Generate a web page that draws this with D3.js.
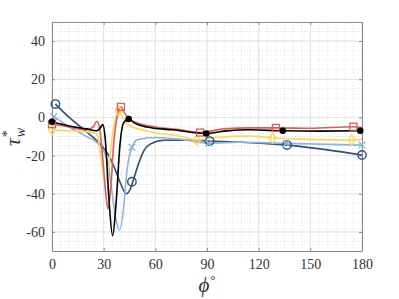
<!DOCTYPE html>
<html>
<head>
<meta charset="utf-8">
<script src="https://cdn.jsdelivr.net/npm/d3@7"></script>
<style>
  body { margin:0; background:#fff; }
</style>
</head>
<body>
<svg id="chart" width="399" height="299"></svg>
<script>
// tick labels
var xTicks = [0, 30, 60, 90, 120, 150, 180];
var yTicks = [-60, -40, -20, 0, 20, 40];

// curves [phi, tau]
var curveDark  = [[2,7],[10,0],[20,-7.5],[28,-14],[33,-20],[37,-28],[40,-35],[43,-40],[45.5,-37.5],[47,-33.5],[50,-25],[53,-18],[57,-14],[65,-12],[80,-12],[91.5,-12.4],[110,-13],[136.5,-14.5],[160,-17],[180,-19.7]];
var curveLight = [[1,0.5],[10,-5],[20,-10],[28,-15],[32,-22],[35,-40],[37,-53],[39.3,-59],[41.5,-48],[43.5,-28],[46.4,-15.7],[50,-11.5],[60,-10.5],[75,-11.5],[91,-13.5],[110,-13],[136,-13.6],[155,-14],[180,-14.5]];
var curveBlack = [[0,-2.3],[10,-4.5],[20,-6],[26,-7],[28,-5.5],[29.5,-3.8],[31,-12],[33,-42],[35.2,-62],[37.2,-45],[39.5,-14],[41.5,-3],[44.5,-0.8],[48,-3],[55,-5],[70,-6.5],[89.6,-8.4],[100,-7.2],[115,-6.5],[134,-7],[155,-7.2],[179,-7]];
var curveRed   = [[0,-3.5],[10,-5],[20,-6.5],[24,-5],[26,-2],[27.5,-5],[29.5,-22],[31,-38],[32.5,-48],[34,-38],[36,-12],[38,1],[40,5.5],[42,2.5],[45,-1],[50,-3],[60,-5],[75,-6.5],[86,-7.9],[100,-6],[115,-5.5],[130,-5.5],[150,-5.7],[175,-4.9],[180,-5.3]];
var curveYellow= [[0,-6.6],[10,-7],[20,-7.5],[25,-8],[27,-12],[29,-25],[31,-34],[33,-25],[35,-10],[37,0],[38.7,3.5],[40,2],[43,-3],[50,-6],[60,-8],[75,-10],[84,-11.9],[95,-10.5],[115,-9.8],[128,-10.8],[150,-11.5],[174,-11.9],[180,-11.5]];

// markers
var markDark   = [[2,7],[46.4,-33.7],[91.5,-12.4],[136.5,-14.5],[180,-19.7]];
var markLight  = [[1,0.5],[46.4,-15.7],[91,-13.5],[136,-13.6],[180,-14.5]];
var markBlack  = [[0,-2.3],[44.5,-0.8],[89.6,-8.4],[134,-7],[179,-7]];
var markRed    = [[0,-3.5],[40,5.5],[86,-7.9],[130,-5.5],[175,-4.9]];
var markYellow = [[0,-6.6],[38.7,3.5],[84,-11.9],[128,-10.8],[174,-11.9]];

var svg = d3.select("#chart");
var plot = { left:52, right:362, top:22, bottom:251 };
var serif = "'Liberation Serif', 'DejaVu Serif', serif";

var x = d3.scaleLinear().domain([0, 180]).range([plot.left, plot.right]);
var y = d3.scaleLinear().domain([-70, 50]).range([plot.bottom, plot.top]);

// minor grid (dotted)
var g = svg.append("g");
g.selectAll(".minx").data(d3.range(0, 181, 5)).enter().append("line")
  .attr("x1", d => x(d)).attr("x2", d => x(d)).attr("y1", plot.top).attr("y2", plot.bottom)
  .attr("stroke", "#d4d4d4").attr("stroke-width", 0.7).attr("stroke-dasharray", "1,2");
g.selectAll(".miny").data(d3.range(-70, 51, 5)).enter().append("line")
  .attr("y1", d => y(d)).attr("y2", d => y(d)).attr("x1", plot.left).attr("x2", plot.right)
  .attr("stroke", "#d4d4d4").attr("stroke-width", 0.7).attr("stroke-dasharray", "1,2");
// major grid
g.selectAll(".majx").data(xTicks).enter().append("line")
  .attr("x1", d => x(d)).attr("x2", d => x(d)).attr("y1", plot.top).attr("y2", plot.bottom)
  .attr("stroke", "#e3e3e3").attr("stroke-width", 1);
g.selectAll(".majy").data(yTicks).enter().append("line")
  .attr("y1", d => y(d)).attr("y2", d => y(d)).attr("x1", plot.left).attr("x2", plot.right)
  .attr("stroke", "#e3e3e3").attr("stroke-width", 1);

// axes with inward ticks
var fmt = d => String(d);
var axB = svg.append("g").attr("transform", "translate(0," + plot.bottom + ")")
  .call(d3.axisBottom(x).tickValues(xTicks).tickSizeInner(-3).tickSizeOuter(0).tickPadding(8).tickFormat(fmt));
var axT = svg.append("g").attr("transform", "translate(0," + plot.top + ")")
  .call(d3.axisTop(x).tickValues(xTicks).tickSizeInner(-3).tickSizeOuter(0).tickFormat(""));
var axL = svg.append("g").attr("transform", "translate(" + plot.left + ",0)")
  .call(d3.axisLeft(y).tickValues(yTicks).tickSizeInner(-3).tickSizeOuter(0).tickPadding(7).tickFormat(fmt));
var axR = svg.append("g").attr("transform", "translate(" + plot.right + ",0)")
  .call(d3.axisRight(y).tickValues(yTicks).tickSizeInner(-3).tickSizeOuter(0).tickFormat(""));
[axB, axT, axL, axR].forEach(function(a) {
  a.attr("font-family", serif).attr("font-size", 13);
  a.select(".domain").attr("stroke", "#8c8c8c").attr("stroke-width", 1);
  a.selectAll(".tick line").attr("stroke", "#8c8c8c");
  a.selectAll(".tick text").attr("fill", "#333").style("font-family", serif).style("font-size", "14px");
});

// curves
var line = d3.line().x(d => x(d[0])).y(d => y(d[1])).curve(d3.curveMonotoneX);
var series = [
  { pts:curveDark,   color:"#2f5077" },
  { pts:curveLight,  color:"#93b3d3" },
  { pts:curveYellow, color:"#fbd461" },
  { pts:curveRed,    color:"#d6605e" },
  { pts:curveBlack,  color:"#000000" }
];
series.forEach(function(s) {
  svg.append("path").datum(s.pts).attr("d", line)
     .attr("fill", "none").attr("stroke", s.color).attr("stroke-width", 1.6);
});

// markers
svg.selectAll(".mDark").data(markDark).enter().append("circle")
  .attr("cx", d => x(d[0])).attr("cy", d => y(d[1])).attr("r", 4.2)
  .attr("fill", "none").attr("stroke", "#2f5077").attr("stroke-width", 1.4);
svg.selectAll(".mLight").data(markLight).enter().append("path")
  .attr("d", d3.symbol().type(d3.symbolX).size(30))
  .attr("transform", d => "translate(" + x(d[0]) + "," + y(d[1]) + ")")
  .attr("fill", "none").attr("stroke", "#93b3d3").attr("stroke-width", 1.4);
svg.selectAll(".mYellow").data(markYellow).enter().append("path")
  .attr("d", "M0,-5L3.5,0L0,5L-3.5,0Z")
  .attr("transform", d => "translate(" + x(d[0]) + "," + y(d[1]) + ")")
  .attr("fill", "none").attr("stroke", "#fbd461").attr("stroke-width", 1.4);
svg.selectAll(".mRed").data(markRed).enter().append("rect")
  .attr("x", d => x(d[0]) - 3.5).attr("y", d => y(d[1]) - 3.5).attr("width", 7).attr("height", 7)
  .attr("fill", "none").attr("stroke", "#d6605e").attr("stroke-width", 1.3);
svg.selectAll(".mBlack").data(markBlack).enter().append("circle")
  .attr("cx", d => x(d[0])).attr("cy", d => y(d[1])).attr("r", 3.3)
  .attr("fill", "#000");

// axis labels
var xl = svg.append("text").attr("x", (plot.left + plot.right) / 2).attr("y", 292)
  .attr("text-anchor", "middle")
  .style("font-family", serif).style("font-size", "21px").style("font-style", "italic")
  .style("fill", "#333");
xl.append("tspan").text("ϕ");
xl.append("tspan").attr("dy", -8).attr("dx", 1).style("font-style", "normal").style("font-size", "13px").text("°");

var yl = svg.append("text").attr("transform", "translate(20,137) rotate(-90)")
  .attr("text-anchor", "middle")
  .style("font-family", serif).style("font-size", "22px").style("font-style", "italic")
  .style("fill", "#333");
yl.append("tspan").text("τ");
yl.append("tspan").attr("dy", -8).attr("dx", 1).style("font-size", "14px").style("font-style", "normal").text("*");
yl.append("tspan").attr("dy", 13).attr("dx", -7).style("font-size", "14px").text("w");
</script>
</body>
</html>
